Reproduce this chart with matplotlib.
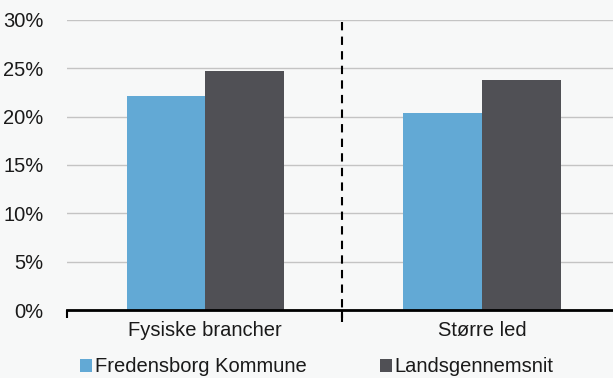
import matplotlib.pyplot as plt
import numpy as np

plt.rcParams['font.family'] = ['Liberation Sans', 'DejaVu Sans']

# data
categories = ['Fysiske brancher', 'Større led']
fredensborg = [0.221, 0.204]
lands = [0.247, 0.238]
series_names = ['Fredensborg Kommune', 'Landsgennemsnit']

bg = '#f7f8f8'
blue = '#62a9d5'
dark = '#505055'

fig = plt.figure(figsize=(6.13, 3.78), dpi=100, facecolor=bg)
ax = fig.add_axes([67 / 613, 1 - 310 / 378, (620.5 - 67) / 613, 290 / 378], facecolor=bg)

x = np.arange(len(categories))
w = 0.285
ax.bar(x - w / 2, fredensborg, w, color=blue, zorder=3, label=series_names[0])
ax.bar(x + w / 2, lands, w, color=dark, zorder=3, label=series_names[1])

ax.set_xlim(-0.5, 1.5)
ax.set_ylim(0, 0.30)
ax.set_yticks(np.arange(0, 0.31, 0.05))
ax.set_yticklabels([f'{int(round(v * 100))}%' for v in np.arange(0, 0.31, 0.05)])
ax.yaxis.grid(True, color='#c4c4c4', linewidth=1.0, zorder=0)
ax.tick_params(axis='y', length=0, pad=17, labelsize=14.5, colors='#1a1a1a')

ax.set_xticks(x)
ax.set_xticklabels(categories)
ax.tick_params(axis='x', length=0, pad=8, labelsize=14.5, colors='#1a1a1a')
# small ticks at category boundaries
ax.set_xticks([-0.5, 0.495], minor=True)
ax.tick_params(axis='x', which='minor', length=6, width=1.5, color='black')

for s in ['top', 'right', 'left']:
    ax.spines[s].set_visible(False)
ax.spines['bottom'].set_linewidth(2)
ax.spines['bottom'].set_color('black')
ax.spines['bottom'].set_zorder(4)

# divider line between groups
ax.plot([0.495, 0.495], [0.298, -0.012], color='black', linestyle=(0, (4, 3)),
        linewidth=1.5, clip_on=False, zorder=5)

leg = fig.legend(loc='center', bbox_to_anchor=(0.517, 1 - 367 / 378), ncol=2,
                 frameon=False, fontsize=14.5, handlelength=0.6, handleheight=0.6,
                 handletextpad=0.15, columnspacing=3.6)
for t in leg.get_texts():
    t.set_color('#1a1a1a')

fig.savefig('out.png', dpi=100, facecolor=bg)
